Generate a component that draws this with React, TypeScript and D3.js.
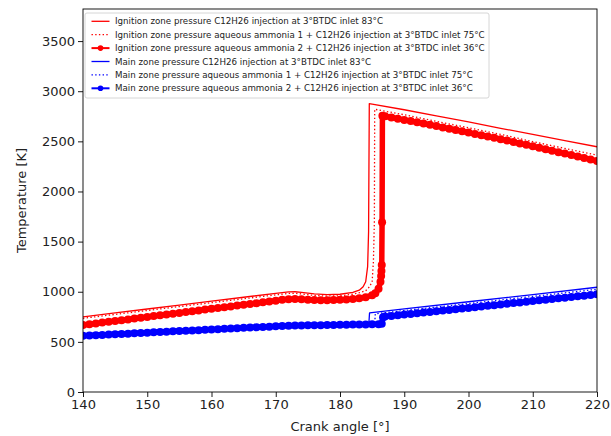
import { useEffect, useRef } from "react";
import * as d3 from "d3";

const WIDTH = 611;
const HEIGHT = 436;
const MARGIN = { top: 9, right: 14, bottom: 44, left: 83 };

// Ignition zone, C12H26 injection, inlet 83°C
const ign1Angle = [140, 145, 150, 155, 160, 165, 170, 172, 173, 174, 176, 178, 180, 182, 183, 183.6, 184, 184.3, 184.45, 184.56, 185, 190, 195, 200, 205, 210, 215, 220];
const ign1Temp = [750, 789, 828, 867, 906, 945, 984, 998, 1000, 993, 978, 972, 975, 993, 1015, 1050, 1100, 1250, 1600, 2877, 2872, 2815, 2755, 2695, 2630, 2570, 2508, 2446];

// Ignition zone, aqueous ammonia 1, inlet 75°C
const ign2Angle = [140, 145, 150, 155, 160, 165, 170, 172, 173, 174, 176, 178, 180, 182, 183, 184, 184.6, 185, 185.2, 185.35, 185.4, 190, 195, 200, 205, 210, 215, 220];
const ign2Temp = [735, 774, 813, 852, 891, 930, 969, 983, 985, 978, 963, 957, 960, 975, 990, 1010, 1050, 1100, 1300, 1700, 2820, 2765, 2700, 2635, 2570, 2497, 2430, 2363];

// Ignition zone, aqueous ammonia 2, inlet 36°C (markers)
const ign3Angle = [
  140, 141, 142, 143, 144, 145, 146, 147, 148, 149, 150, 151, 152, 153, 154, 155, 156, 157, 158, 159,
  160, 161, 162, 163, 164, 165, 166, 167, 168, 169, 170, 171, 172, 173, 174, 175, 176, 177, 178, 179,
  180, 181, 182, 183, 184, 185, 185.5, 186, 186.3, 186.4, 186.45, 186.5, 186.55, 186.6, 187, 188, 189,
  190, 191, 192, 193, 194, 195, 196, 197, 198, 199, 200, 201, 202, 203, 204, 205, 206, 207, 208, 209,
  210, 211, 212, 213, 214, 215, 216, 217, 218, 219, 220,
];
const ign3Temp = [
  668, 676, 684, 692, 700, 708, 716, 724, 733, 741, 749, 757, 765, 773, 781, 789, 797, 805, 814, 822,
  830, 838, 846, 854, 862, 870, 878, 886, 895, 903, 911, 919, 925, 928, 925, 920, 917, 916, 916, 917,
  919, 923, 928, 935, 945, 965, 985, 1030, 1100, 1157, 1206, 1266, 1692, 2755, 2750, 2738, 2726,
  2714, 2702, 2690, 2677, 2665, 2652, 2639, 2626, 2613, 2600, 2587, 2574, 2561, 2548, 2535, 2522, 2508, 2494, 2479, 2465,
  2450, 2436, 2421, 2407, 2392, 2378, 2363, 2349, 2334, 2320, 2305,
];

// Main zone, C12H26 injection, inlet 83°C
const main1Angle = [140, 150, 160, 170, 175, 180, 184, 184.5, 184.6, 190, 200, 210, 220];
const main1Temp = [580, 612, 643, 672, 680, 683, 686, 690, 790, 830, 900, 972, 1045];

// Main zone, aqueous ammonia 1, inlet 75°C
const main2Angle = [140, 150, 160, 170, 175, 180, 185, 185.4, 185.5, 190, 200, 210, 220];
const main2Temp = [575, 607, 638, 668, 676, 679, 682, 686, 780, 812, 882, 953, 1025];

// Main zone, aqueous ammonia 2, inlet 36°C (markers)
const main3Angle = [
  140, 141, 142, 143, 144, 145, 146, 147, 148, 149, 150, 151, 152, 153, 154, 155, 156, 157, 158, 159,
  160, 161, 162, 163, 164, 165, 166, 167, 168, 169, 170, 171, 172, 173, 174, 175, 176, 177, 178, 179,
  180, 181, 182, 183, 184, 185, 186, 186.5, 186.7, 187, 188, 189,
  190, 191, 192, 193, 194, 195, 196, 197, 198, 199, 200, 201, 202, 203, 204, 205, 206, 207, 208, 209,
  210, 211, 212, 213, 214, 215, 216, 217, 218, 219, 220,
];
const main3Temp = [
  560, 563, 566, 569, 573, 576, 579, 582, 585, 589, 592, 595, 598, 601, 605, 608, 611, 614, 617, 620,
  624, 627, 630, 633, 636, 640, 643, 646, 649, 652, 655, 658, 661, 663, 664, 665, 666, 667, 668, 669,
  670, 671, 672, 673, 674, 675, 676, 680, 745, 752, 758, 765,
  772, 779, 785, 792, 799, 806, 812, 819, 826, 833, 839, 846, 853, 860, 866, 873, 880, 887, 893, 900,
  907, 914, 920, 927, 934, 941, 947, 954, 961, 968, 975,
];

const xTicks = [140, 150, 160, 170, 180, 190, 200, 210, 220];
const yTicks = [0, 500, 1000, 1500, 2000, 2500, 3000, 3500];

const legendLabels = [
  "Ignition zone pressure C12H26 injection at 3°BTDC inlet 83°C",
  "Ignition zone pressure aqueous ammonia 1 + C12H26 injection at 3°BTDC inlet 75°C",
  "Ignition zone pressure aqueous ammonia 2 + C12H26 injection at 3°BTDC inlet 36°C",
  "Main zone pressure C12H26 injection at 3°BTDC inlet 83°C",
  "Main zone pressure aqueous ammonia 1 + C12H26 injection at 3°BTDC inlet 75°C",
  "Main zone pressure aqueous ammonia 2 + C12H26 injection at 3°BTDC inlet 36°C",
];

const FONT = "DejaVu Sans, sans-serif";
const DOTS = "1.4,2.3";

const series = [
  { x: ign1Angle, y: ign1Temp, color: "#ff0000", style: "solid" },
  { x: ign2Angle, y: ign2Temp, color: "#ff0000", style: "dotted" },
  { x: ign3Angle, y: ign3Temp, color: "#ff0000", style: "marker" },
  { x: main1Angle, y: main1Temp, color: "#0000ff", style: "solid" },
  { x: main2Angle, y: main2Temp, color: "#0000ff", style: "dotted" },
  { x: main3Angle, y: main3Temp, color: "#0000ff", style: "marker" },
];

const App = () => {
  const axesRef = useRef<SVGGElement>(null);
  const boundsWidth = WIDTH - MARGIN.left - MARGIN.right;
  const boundsHeight = HEIGHT - MARGIN.top - MARGIN.bottom;

  const xScale = d3.scaleLinear().domain([140, 220]).range([0, boundsWidth]);
  const yScale = d3.scaleLinear().domain([0, 3820]).range([boundsHeight, 0]);

  useEffect(() => {
    const g = d3.select(axesRef.current);
    g.selectAll("*").remove();

    const xAxis = g
      .append("g")
      .attr("transform", `translate(0,${boundsHeight})`)
      .call(d3.axisBottom(xScale).tickValues(xTicks).tickFormat(d3.format("d")).tickSize(5).tickPadding(3));
    const yAxis = g
      .append("g")
      .call(d3.axisLeft(yScale).tickValues(yTicks).tickFormat(d3.format("d")).tickSize(5).tickPadding(3));

    [xAxis, yAxis].forEach((a) => {
      a.select(".domain").remove();
      a.selectAll("line").attr("stroke", "#000").attr("stroke-width", 0.9);
      a.selectAll("text")
        .attr("font-family", FONT)
        .attr("font-size", 13)
        .attr("fill", "#222");
    });

    // frame
    g.append("rect")
      .attr("width", boundsWidth)
      .attr("height", boundsHeight)
      .attr("fill", "none")
      .attr("stroke", "#000")
      .attr("stroke-width", 0.9);
  }, [xScale, yScale, boundsHeight]);

  const line = (xs: number[], ys: number[]) =>
    d3
      .line<number>()
      .x((_, i) => xScale(xs[i]))
      .y((d) => yScale(d))(ys) || "";

  return (
    <svg
      width={WIDTH}
      height={HEIGHT}
      style={{ position: "absolute", left: 0, top: 0, background: "#fff" }}
    >
      <defs>
        <clipPath id="plotClip">
          <rect width={boundsWidth} height={boundsHeight} />
        </clipPath>
      </defs>
      <g transform={`translate(${MARGIN.left},${MARGIN.top})`}>
        <g clipPath="url(#plotClip)">
          {series.map((s, i) => (
            <g key={i}>
              <path
                d={line(s.x, s.y)}
                fill="none"
                stroke={s.color}
                strokeWidth={s.style === "marker" ? 5.5 : 1.3}
                strokeLinejoin="round"
                strokeDasharray={s.style === "dotted" ? DOTS : undefined}
              />
              {s.style === "marker" &&
                s.y.map((v, j) => (
                  <circle key={j} cx={xScale(s.x[j])} cy={yScale(v)} r={4} fill={s.color} />
                ))}
            </g>
          ))}
        </g>
      </g>
      <g ref={axesRef} transform={`translate(${MARGIN.left},${MARGIN.top})`} />

      {/* legend */}
      <g transform="translate(85,13)">
        <rect
          width={404}
          height={85}
          rx={2}
          fill="#fff"
          fillOpacity={0.8}
          stroke="#ccc"
          strokeWidth={0.8}
        />
        {legendLabels.map((label, i) => {
          const s = series[i];
          const y = 8.3 + i * 13.4;
          return (
            <g key={i}>
              <line
                x1={6.5}
                x2={24.5}
                y1={y}
                y2={y}
                stroke={s.color}
                strokeWidth={s.style === "marker" ? 2 : 1.3}
                strokeDasharray={s.style === "dotted" ? DOTS : undefined}
              />
              {s.style === "marker" && <circle cx={15.5} cy={y} r={2.8} fill={s.color} />}
              <text
                x={30}
                y={y}
                dy="0.35em"
                fontFamily={FONT}
                fontSize={8.7}
                fill="#222"
              >
                {label}
              </text>
            </g>
          );
        })}
      </g>

      <text
        x={MARGIN.left + boundsWidth / 2}
        y={431}
        textAnchor="middle"
        fontFamily={FONT}
        fontSize={13}
        fill="#222"
      >
        Crank angle [°]
      </text>
      <text
        transform={`translate(26,${MARGIN.top + boundsHeight / 2}) rotate(-90)`}
        textAnchor="middle"
        fontFamily={FONT}
        fontSize={13}
        fill="#222"
      >
        Temperature [K]
      </text>
    </svg>
  );
};

export default App;
